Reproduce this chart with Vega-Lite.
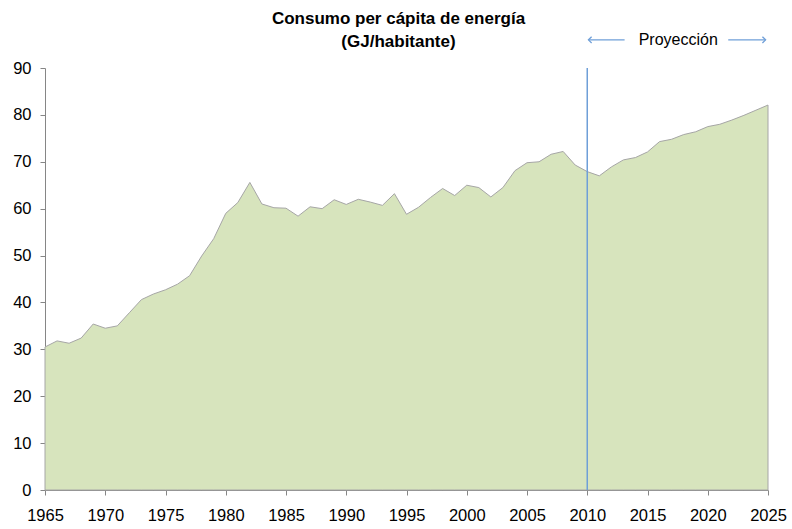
{
  "$schema": "https://vega.github.io/schema/vega-lite/v6.json",
  "autosize": "none",
  "width": 723,
  "height": 422,
  "padding": {"left": 45, "top": 68, "right": 24, "bottom": 39},
  "background": "white",
  "title": {
    "text": ["Consumo per cápita de energía", "(GJ/habitante)"],
    "font": "Liberation Sans",
    "fontSize": 17,
    "fontWeight": "bold",
    "color": "black",
    "anchor": "middle",
    "frame": "group",
    "dx": -8,
    "offset": -19,
    "lineHeight": 23
  },
  "config": {
    "view": {"stroke": null},
    "axis": {
      "grid": false,
      "labelFont": "Liberation Sans",
      "labelFontSize": 16.5,
      "labelColor": "black",
      "domainColor": "#868686",
      "tickColor": "#868686",
      "tickSize": 5
    }
  },
  "datasets": {
    "consumo": [
      {"year": 1965, "value": 30.5}, {"year": 1966, "value": 31.8}, {"year": 1967, "value": 31.3},
      {"year": 1968, "value": 32.4}, {"year": 1969, "value": 35.4}, {"year": 1970, "value": 34.5},
      {"year": 1971, "value": 35.0}, {"year": 1972, "value": 37.8}, {"year": 1973, "value": 40.6},
      {"year": 1974, "value": 41.8}, {"year": 1975, "value": 42.7}, {"year": 1976, "value": 43.9},
      {"year": 1977, "value": 45.7}, {"year": 1978, "value": 49.9}, {"year": 1979, "value": 53.6},
      {"year": 1980, "value": 59.0}, {"year": 1981, "value": 61.3}, {"year": 1982, "value": 65.6},
      {"year": 1983, "value": 61.0}, {"year": 1984, "value": 60.2}, {"year": 1985, "value": 60.1},
      {"year": 1986, "value": 58.4}, {"year": 1987, "value": 60.4}, {"year": 1988, "value": 60.0},
      {"year": 1989, "value": 61.9}, {"year": 1990, "value": 60.9}, {"year": 1991, "value": 62.0},
      {"year": 1992, "value": 61.4}, {"year": 1993, "value": 60.7}, {"year": 1994, "value": 63.2},
      {"year": 1995, "value": 58.8}, {"year": 1996, "value": 60.3}, {"year": 1997, "value": 62.4},
      {"year": 1998, "value": 64.3}, {"year": 1999, "value": 62.8}, {"year": 2000, "value": 65.0},
      {"year": 2001, "value": 64.5}, {"year": 2002, "value": 62.5}, {"year": 2003, "value": 64.5},
      {"year": 2004, "value": 68.1}, {"year": 2005, "value": 69.8}, {"year": 2006, "value": 70.0},
      {"year": 2007, "value": 71.6}, {"year": 2008, "value": 72.2}, {"year": 2009, "value": 69.3},
      {"year": 2010, "value": 67.9}, {"year": 2011, "value": 67.0}, {"year": 2012, "value": 68.9},
      {"year": 2013, "value": 70.4}, {"year": 2014, "value": 70.9}, {"year": 2015, "value": 72.1},
      {"year": 2016, "value": 74.3}, {"year": 2017, "value": 74.8}, {"year": 2018, "value": 75.8},
      {"year": 2019, "value": 76.4}, {"year": 2020, "value": 77.5}, {"year": 2021, "value": 78.0},
      {"year": 2022, "value": 78.9}, {"year": 2023, "value": 79.9}, {"year": 2024, "value": 81.0},
      {"year": 2025, "value": 82.1}
    ],
    "arrows": [
      {"x1": 2010.1, "x2": 2013.1, "y": 96, "head": 2010.1, "dir": "left"},
      {"x1": 2021.7, "x2": 2024.8, "y": 96, "head": 2024.8, "dir": "right"}
    ]
  },
  "layer": [
    {
      "data": {"name": "consumo"},
      "mark": {"type": "area", "color": "#d7e4bd", "stroke": "#a6a6a6", "strokeWidth": 1, "clip": false},
      "encoding": {
        "x": {
          "field": "year", "type": "quantitative",
          "scale": {"domain": [1965, 2025], "nice": false, "zero": false},
          "axis": {"title": null, "format": "d", "values": [1965, 1970, 1975, 1980, 1985, 1990, 1995, 2000, 2005, 2010, 2015, 2020, 2025], "labelPadding": 12, "labelFlush": false}
        },
        "y": {
          "field": "value", "type": "quantitative",
          "scale": {"domain": [0, 90], "nice": false},
          "axis": {"title": null, "values": [0, 10, 20, 30, 40, 50, 60, 70, 80, 90], "labelPadding": 9}
        }
      }
    },
    {
      "data": {"values": [{"year": 2010, "lo": 0, "hi": 90}]},
      "mark": {"type": "rule", "color": "#6f9fd8", "strokeWidth": 1.5},
      "encoding": {
        "x": {"field": "year", "type": "quantitative"},
        "y": {"field": "lo", "type": "quantitative"},
        "y2": {"field": "hi"}
      }
    },
    {
      "data": {"name": "arrows"},
      "mark": {"type": "rule", "color": "#6f9fd8", "strokeWidth": 1.3, "clip": false},
      "encoding": {
        "x": {"field": "x1", "type": "quantitative"},
        "x2": {"field": "x2"},
        "y": {"field": "y", "type": "quantitative"}
      }
    },
    {
      "data": {"name": "arrows"},
      "transform": [{"filter": "datum.dir === 'left'"}],
      "mark": {"type": "point", "shape": "M1,-1L0,0L1,1", "filled": false, "stroke": "#6f9fd8", "strokeWidth": 1.3, "size": 40, "opacity": 1, "clip": false},
      "encoding": {
        "x": {"field": "head", "type": "quantitative"},
        "y": {"field": "y", "type": "quantitative"}
      }
    },
    {
      "data": {"name": "arrows"},
      "transform": [{"filter": "datum.dir === 'right'"}],
      "mark": {"type": "point", "shape": "M-1,-1L0,0L-1,1", "filled": false, "stroke": "#6f9fd8", "strokeWidth": 1.3, "size": 40, "opacity": 1, "clip": false},
      "encoding": {
        "x": {"field": "head", "type": "quantitative"},
        "y": {"field": "y", "type": "quantitative"}
      }
    },
    {
      "data": {"values": [{"year": 2017.55, "y": 96, "label": "Proyección"}]},
      "mark": {"type": "text", "font": "Liberation Sans", "fontSize": 16, "color": "black", "align": "center", "baseline": "middle", "clip": false},
      "encoding": {
        "x": {"field": "year", "type": "quantitative"},
        "y": {"field": "y", "type": "quantitative"},
        "text": {"field": "label"}
      }
    }
  ]
}
